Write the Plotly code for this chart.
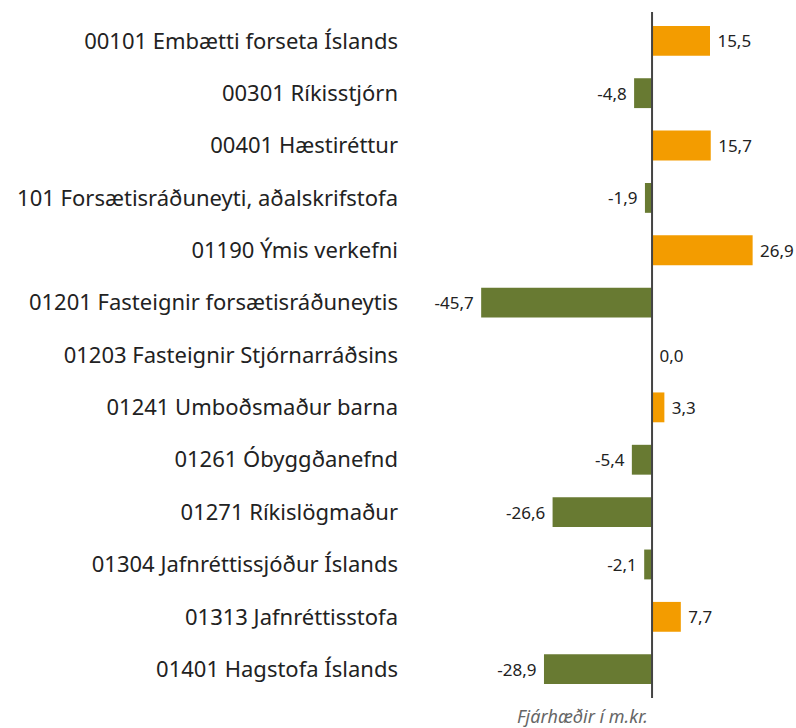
import plotly.graph_objects as go

categories = [
    "00101 Embætti forseta Íslands",
    "00301 Ríkisstjórn",
    "00401 Hæstiréttur",
    "101 Forsætisráðuneyti, aðalskrifstofa",
    "01190 Ýmis verkefni",
    "01201 Fasteignir forsætisráðuneytis",
    "01203 Fasteignir Stjórnarráðsins",
    "01241 Umboðsmaður barna",
    "01261 Óbyggðanefnd",
    "01271 Ríkislögmaður",
    "01304 Jafnréttissjóður Íslands",
    "01313 Jafnréttisstofa",
    "01401 Hagstofa Íslands",
]
values = [15.5, -4.8, 15.7, -1.9, 26.9, -45.7, 0.0, 3.3, -5.4, -26.6, -2.1, 7.7, -28.9]
footer = "Fjárhæðir í m.kr."

ORANGE = "#F39C00"
GREEN = "#687A32"

colors = [ORANGE if v > 0 else GREEN for v in values]
labels = []
for v in values:
    s = f"{v:.1f}".replace(".", ",")
    labels.append(s + " " if v < 0 else " " + s)

W, H = 796, 728
L, T, B = 409, 12, 30
plot_w = W - L
plot_h = H - T - B

fig = go.Figure(go.Bar(
    x=values, y=categories, orientation="h",
    marker=dict(color=colors, line=dict(width=0)),
    text=labels, textposition="outside", cliponaxis=False,
    textfont=dict(size=17, color="#222222", family="Noto Sans"),
))

fig.update_layout(
    width=W, height=H,
    margin=dict(l=L, r=0, t=T, b=B, autoexpand=False),
    plot_bgcolor="white", paper_bgcolor="white",
    bargap=0.43,
    showlegend=False,
    font=dict(family="Noto Sans", color="#222222"),
    xaxis=dict(range=[-65.0, 38.5], showgrid=False, zeroline=False,
               showticklabels=False, ticks=""),
    yaxis=dict(autorange=False, range=[12.55, -0.55], type="category",
               showgrid=False, zeroline=False, ticks="",
               tickfont=dict(size=22, color="#222222"), ticklabelstandoff=10),
    shapes=[dict(type="line", xref="x", yref="paper", x0=0, x1=0, y0=0, y1=1,
                 line=dict(color="#444444", width=2))],
    annotations=[dict(text="<i>" + footer + "</i>", xref="paper", yref="paper",
                      x=(650 - L) / plot_w, y=-(716 - (H - B)) / plot_h,
                      xanchor="right", yanchor="middle",
                      showarrow=False,
                      font=dict(size=18, color="#666666", family="Noto Sans"))],
)

fig.write_html(
    "out.html",
    config={"displayModeBar": False},
    post_script="document.body.style.margin='0';document.body.style.overflow='hidden';",
)
